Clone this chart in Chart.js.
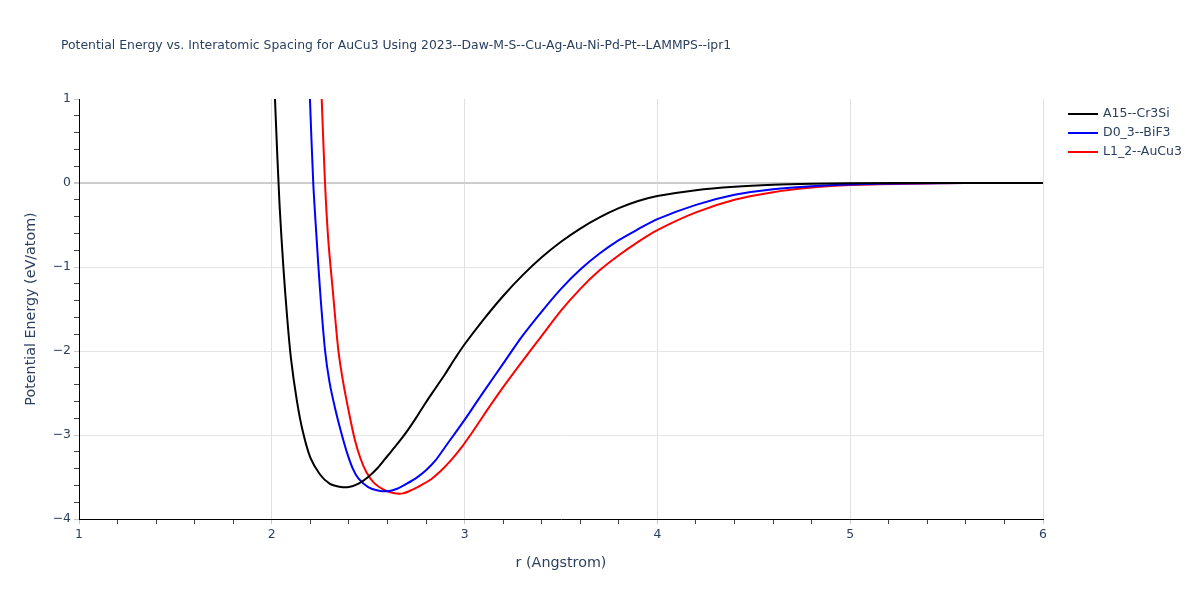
<!DOCTYPE html>
<html>
<head>
<meta charset="utf-8">
<script src="https://cdn.jsdelivr.net/npm/chart.js@4"></script>
<style>
  body { margin: 0; background: #fff; }
  #wrap { width: 1200px; height: 600px; }
</style>
</head>
<body>
<div id="wrap"><canvas id="mycanvas"></canvas></div>
<script>
var titleText = 'Potential Energy vs. Interatomic Spacing for AuCu3 Using 2023--Daw-M-S--Cu-Ag-Au-Ni-Pd-Pt--LAMMPS--ipr1';
var xTitle = 'r (Angstrom)';
var yTitle = 'Potential Energy (eV/atom)';
var seriesNames = ['A15--Cr3Si', 'D0_3--BiF3', 'L1_2--AuCu3'];
var seriesColors = ['#000000', '#0000ff', '#ff0000'];

// A15--Cr3Si
var a15R = [2.00, 2.02, 2.04, 2.06, 2.08, 2.10, 2.13, 2.16, 2.20, 2.25, 2.30, 2.35, 2.40, 2.45, 2.50, 2.55, 2.60, 2.65, 2.70, 2.75, 2.80, 2.85, 2.90, 2.95, 3.00, 3.1, 3.2, 3.3, 3.4, 3.5, 3.6, 3.7, 3.8, 3.9, 4.0, 4.2, 4.4, 4.6, 4.8, 5.0, 5.5, 6.0];
var a15E = [1.95, 0.80, -0.25, -1.00, -1.61, -2.10, -2.59, -2.95, -3.27, -3.47, -3.58, -3.615, -3.62, -3.58, -3.50, -3.39, -3.25, -3.11, -2.96, -2.79, -2.61, -2.44, -2.27, -2.09, -1.92, -1.62, -1.345, -1.10, -0.885, -0.70, -0.543, -0.41, -0.30, -0.215, -0.155, -0.085, -0.045, -0.022, -0.010, -0.004, 0, 0];

// D0_3--BiF3
var d03R = [2.185, 2.198, 2.215, 2.233, 2.25, 2.276, 2.30, 2.33, 2.36, 2.39, 2.42, 2.45, 2.50, 2.55, 2.60, 2.65, 2.70, 2.75, 2.80, 2.85, 2.90, 2.95, 3.00, 3.05, 3.10, 3.2, 3.3, 3.4, 3.5, 3.6, 3.7, 3.8, 3.9, 4.0, 4.2, 4.4, 4.6, 4.8, 5.0, 5.3, 5.6, 6.0];
var d03E = [1.75, 0.99, 0.0, -0.68, -1.27, -1.99, -2.38, -2.70, -2.97, -3.21, -3.40, -3.52, -3.62, -3.66, -3.67, -3.64, -3.58, -3.51, -3.42, -3.30, -3.14, -2.98, -2.82, -2.65, -2.48, -2.15, -1.82, -1.53, -1.26, -1.03, -0.84, -0.68, -0.55, -0.43, -0.26, -0.14, -0.075, -0.038, -0.018, -0.005, 0, 0];

// L1_2--AuCu3
var l12R = [2.245, 2.259, 2.276, 2.293, 2.316, 2.345, 2.37, 2.40, 2.43, 2.46, 2.49, 2.53, 2.58, 2.63, 2.68, 2.73, 2.78, 2.83, 2.88, 2.93, 2.98, 3.03, 3.08, 3.13, 3.2, 3.3, 3.4, 3.5, 3.6, 3.7, 3.8, 3.9, 4.0, 4.2, 4.4, 4.6, 4.8, 5.0, 5.3, 5.6, 6.0];
var l12E = [1.8, 0.99, 0.0, -0.68, -1.27, -1.99, -2.37, -2.73, -3.05, -3.28, -3.44, -3.57, -3.65, -3.69, -3.695, -3.65, -3.59, -3.52, -3.42, -3.30, -3.16, -3.00, -2.83, -2.66, -2.43, -2.12, -1.82, -1.52, -1.26, -1.04, -0.86, -0.70, -0.56, -0.35, -0.20, -0.11, -0.055, -0.025, -0.008, 0, 0];

var xTicks = [1, 2, 3, 4, 5, 6];
var yTicks = [-4, -3, -2, -1, 0, 1];

function toPoints(rs, es) {
  var pts = [];
  for (var i = 0; i < rs.length; i++) pts.push({x: rs[i], y: es[i]});
  return pts;
}

function isMajor(v, list) {
  for (var i = 0; i < list.length; i++) {
    if (Math.abs(v - list[i]) < 1e-6) return true;
  }
  return false;
}

function fmt(v) {
  var n = Math.round(v);
  return n < 0 ? '\u2212' + Math.abs(n) : String(n);
}

var FONT = '"DejaVu Sans", verdana, arial, sans-serif';
var TEXT = '#2a3f5f';

var allR = [a15R, d03R, l12R];
var allE = [a15E, d03E, l12E];
var datasets = [];
for (var k = 0; k < 3; k++) {
  datasets.push({
    label: seriesNames[k],
    data: toPoints(allR[k], allE[k]),
    borderColor: seriesColors[k],
    backgroundColor: seriesColors[k],
    borderWidth: 2,
    pointRadius: 0,
    tension: 0.3,
    fill: false,
    clip: 0
  });
}

// title, axis titles and legend drawn on the canvas
var decor = {
  id: 'decor',
  afterDraw: function(chart) {
    var c = chart.ctx;
    var area = chart.chartArea;
    c.save();
    c.fillStyle = TEXT;
    c.textBaseline = 'middle';

    c.font = '12.4px ' + FONT;
    c.textAlign = 'left';
    c.fillText(titleText, 61, 46);

    c.font = '14.3px ' + FONT;
    c.textAlign = 'center';
    c.fillText(xTitle, (area.left + area.right) / 2, 563);

    c.save();
    c.translate(31, (area.top + area.bottom) / 2);
    c.rotate(-Math.PI / 2);
    c.fillText(yTitle, 0, 0);
    c.restore();

    c.font = '12.5px ' + FONT;
    c.textAlign = 'left';
    for (var i = 0; i < chart.data.datasets.length; i++) {
      var ds = chart.data.datasets[i];
      var y = 114 + i * 19;
      c.strokeStyle = ds.borderColor;
      c.lineWidth = 2;
      c.beginPath();
      c.moveTo(1068, y);
      c.lineTo(1098, y);
      c.stroke();
      c.fillStyle = TEXT;
      c.fillText(ds.label, 1103, y);
    }
    c.restore();
  }
};

var ctx = document.getElementById('mycanvas');
var chart = new Chart(ctx, {
  type: 'line',
  data: { datasets: datasets },
  plugins: [decor],
  options: {
    responsive: true,
    maintainAspectRatio: false,
    animation: false,
    layout: { padding: { left: 0, top: 99, right: 157, bottom: 0 } },
    plugins: {
      legend: { display: false },
      title: { display: false },
      tooltip: { enabled: false }
    },
    scales: {
      x: {
        type: 'linear',
        min: 1,
        max: 6,
        afterFit: function(s) { s.height = 81; },
        afterBuildTicks: function(s) {
          var t = [];
          for (var i = 0; i <= 25; i++) t.push({value: 1 + i * 0.2});
          s.ticks = t;
        },
        ticks: {
          autoSkip: false,
          maxRotation: 0,
          padding: 3,
          color: TEXT,
          font: { family: FONT, size: 12.4 },
          callback: function(v) { return isMajor(v, xTicks) ? fmt(v) : ''; }
        },
        grid: {
          drawTicks: true,
          tickLength: 5,
          color: function(c) {
            var v = c.tick ? c.tick.value : 0;
            if (!isMajor(v, xTicks) || v === 1) return 'rgba(0,0,0,0)';
            return '#e0e0e0';
          },
          tickColor: function(c) {
            var v = c.tick ? c.tick.value : 0;
            return isMajor(v, xTicks) ? '#c8c8c8' : '#444444';
          }
        },
        border: { display: true, color: '#000000', width: 1 }
      },
      y: {
        type: 'linear',
        min: -4,
        max: 1,
        afterFit: function(s) { s.width = 79; },
        afterBuildTicks: function(s) {
          var t = [];
          for (var i = 0; i <= 25; i++) t.push({value: -4 + i * 0.2});
          s.ticks = t;
        },
        ticks: {
          autoSkip: false,
          padding: 3,
          color: TEXT,
          font: { family: FONT, size: 12.4 },
          callback: function(v) { return isMajor(v, yTicks) ? fmt(v) : ''; }
        },
        grid: {
          drawTicks: true,
          tickLength: 5,
          lineWidth: function(c) {
            var v = c.tick ? c.tick.value : 1;
            return Math.abs(v) < 1e-6 ? 2 : 1;
          },
          color: function(c) {
            var v = c.tick ? c.tick.value : 1;
            if (!isMajor(v, yTicks) || v === -4 || v === 1) return 'rgba(0,0,0,0)';
            if (Math.abs(v) < 1e-6) return '#cccccc';
            return '#e6e6e6';
          },
          tickColor: function(c) {
            var v = c.tick ? c.tick.value : 1;
            return isMajor(v, yTicks) ? '#c8c8c8' : '#444444';
          }
        },
        border: { display: true, color: '#000000', width: 1 }
      }
    }
  }
});
</script>
</body>
</html>
